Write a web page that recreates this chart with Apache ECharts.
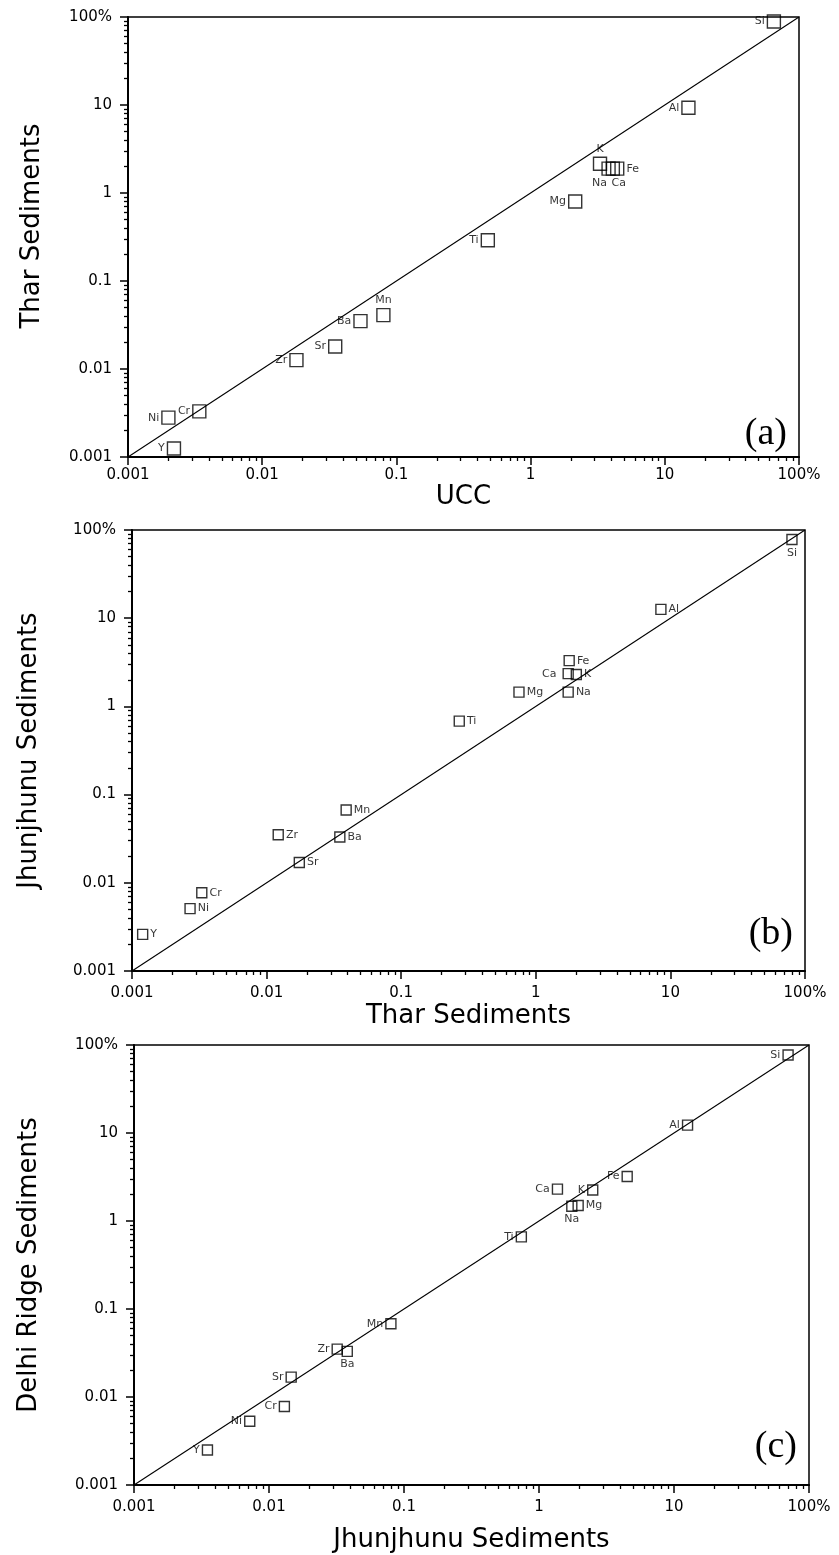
<!DOCTYPE html>
<html>
<head>
<meta charset="utf-8">
<title>Element abundance comparison</title>
<script src="https://cdn.jsdelivr.net/npm/echarts@6/dist/echarts.min.js"></script>
<style>
  html, body { margin: 0; padding: 0; background: #fff; }
  #chart { width: 839px; height: 1555px; }
</style>
</head>
<body>
<div id="chart"></div>
<script>
// Decade ticks shared by every axis (values in %, log scale)
const tickValues = [0.001, 0.01, 0.1, 1, 10, 100];
const tickLabels = ['0.001', '0.01', '0.1', '1', '10', '100%'];

// (a) UCC vs Thar sediments
const elementsA = ['Si', 'Al', 'K', 'Na', 'Ca', 'Fe', 'Mg', 'Ti', 'Mn', 'Ba', 'Sr', 'Zr', 'Cr', 'Ni', 'Y'];
const uccA  = [65, 15, 3.29, 3.81, 4.1, 4.42, 2.15, 0.48, 0.08, 0.054, 0.035, 0.018, 0.0034, 0.002, 0.0022];
const tharA = [89, 9.3, 2.15, 1.89, 1.89, 1.89, 0.8, 0.29, 0.041, 0.035, 0.018, 0.0126, 0.0033, 0.0028, 0.00125];

// (b) Thar vs Jhunjhunu sediments
const elementsB = ['Si', 'Al', 'Fe', 'Ca', 'K', 'Mg', 'Na', 'Ti', 'Mn', 'Zr', 'Ba', 'Sr', 'Cr', 'Ni', 'Y'];
const tharB  = [80, 8.5, 1.77, 1.74, 2.0, 0.75, 1.74, 0.27, 0.039, 0.0122, 0.035, 0.0175, 0.0033, 0.0027, 0.0012];
const jhunB  = [78, 12.6, 3.3, 2.35, 2.3, 1.45, 1.45, 0.68, 0.067, 0.035, 0.033, 0.017, 0.0077, 0.0051, 0.0026];

// (c) Jhunjhunu vs Delhi Ridge sediments
const elementsC = ['Si', 'Al', 'Fe', 'Ca', 'K', 'Mg', 'Na', 'Ti', 'Mn', 'Zr', 'Ba', 'Sr', 'Cr', 'Ni', 'Y'];
const jhunC  = [70, 12.6, 4.5, 1.37, 2.5, 1.95, 1.75, 0.74, 0.08, 0.032, 0.038, 0.0146, 0.013, 0.0072, 0.0035];
const delhiC = [77, 12.3, 3.2, 2.3, 2.25, 1.5, 1.47, 0.66, 0.068, 0.035, 0.033, 0.0168, 0.0078, 0.0053, 0.0025];

// 1:1 reference line end points
const oneToOne = [0.001, 100];

// Label placement for each element, per panel
const labelSideA = { Si: 'left', Al: 'left', K: 'top', Na: 'bottom', Ca: 'bottom', Fe: 'right', Mg: 'left', Ti: 'left',
  Mn: 'top', Ba: 'left', Sr: 'left', Zr: 'left', Cr: 'left', Ni: 'left', Y: 'left' };
const labelSideB = { Si: 'bottom', Al: 'right', Fe: 'right', Ca: 'left', K: 'right', Mg: 'right', Na: 'right', Ti: 'right',
  Mn: 'right', Zr: 'right', Ba: 'right', Sr: 'right', Cr: 'right', Ni: 'right', Y: 'right' };
const labelSideC = { Si: 'left', Al: 'left', Fe: 'left', Ca: 'left', K: 'left', Mg: 'right', Na: 'bottom', Ti: 'left',
  Mn: 'left', Zr: 'left', Ba: 'bottom', Sr: 'left', Cr: 'left', Ni: 'left', Y: 'left' };
// nudges for crowded labels
const labelShiftA = { Na: [-9, 0], Ca: [6, 0] };
const labelShiftB = { Ca: [-4, 0] };
const labelShiftC = {};

// Minor log ticks 2..9 inside each decade
const minorTicks = [];
for (let e = -3; e < 2; e++) {
  for (let m = 2; m <= 9; m++) minorTicks.push(+(m * Math.pow(10, e)).toPrecision(3));
}

const FONT = '"DejaVu Sans", Verdana, sans-serif';

function fmtTick(v) {
  const i = Math.round(Math.log10(v)) + 3;
  return tickLabels[i] !== undefined ? tickLabels[i] : '';
}

const panels = [
  { grid: { left: 128, top: 17, width: 671, height: 440 }, xName: 'UCC', yName: 'Thar Sediments',
    xGap: 10, yGap: 83, yPad: [0, 0, 0, 22], xMargin: 11, names: elementsA, xs: uccA, ys: tharA, sides: labelSideA, shifts: labelShiftA,
    size: 13, tag: '(a)', tagY: 434 },
  { grid: { left: 132, top: 530, width: 673, height: 441 }, xName: 'Thar Sediments', yName: 'Jhunjhunu Sediments',
    xGap: 32, yGap: 90, yPad: 0, xMargin: 15, names: elementsB, xs: tharB, ys: jhunB, sides: labelSideB, shifts: labelShiftB,
    size: 10, tag: '(b)', tagY: 934 },
  { grid: { left: 134, top: 1045, width: 675, height: 440 }, xName: 'Jhunjhunu Sediments', yName: 'Delhi Ridge Sediments',
    xGap: 42, yGap: 92, yPad: 0, xMargin: 15, names: elementsC, xs: jhunC, ys: delhiC, sides: labelSideC, shifts: labelShiftC,
    size: 10, tag: '(c)', tagY: 1447 }
];

const option = { animation: false, backgroundColor: '#fff', grid: [], xAxis: [], yAxis: [], series: [], graphic: [] };

panels.forEach((p, k) => {
  option.grid.push(Object.assign({ show: true, borderColor: '#000', borderWidth: 1.5, backgroundColor: 'transparent' }, p.grid));

  const base = { type: 'log', logBase: 10, min: 0.001, max: 100, gridIndex: k, splitLine: { show: false } };
  // main axes with decade ticks and labels
  option.xAxis.push(Object.assign({}, base, {
    position: 'bottom',
    name: p.xName, nameLocation: 'middle', nameGap: p.xGap,
    nameTextStyle: { fontFamily: FONT, fontSize: 26, color: '#000', verticalAlign: 'top' },
    axisLine: { show: true, onZero: false, lineStyle: { color: '#000', width: 2 } },
    axisTick: { show: true, inside: false, length: 8, lineStyle: { color: '#000', width: 1.5 }, customValues: tickValues },
    axisLabel: { show: true, margin: p.xMargin, fontFamily: FONT, fontSize: 15, color: '#000', formatter: fmtTick, customValues: tickValues }
  }));
  option.yAxis.push(Object.assign({}, base, {
    position: 'left',
    name: p.yName, nameLocation: 'middle', nameGap: p.yGap, nameRotate: 90,
    nameTextStyle: { fontFamily: FONT, fontSize: 26, color: '#000', padding: p.yPad },
    axisLine: { show: true, onZero: false, lineStyle: { color: '#000', width: 2 } },
    axisTick: { show: true, inside: false, length: 8, lineStyle: { color: '#000', width: 1.5 }, customValues: tickValues },
    axisLabel: { show: true, margin: 16, fontFamily: FONT, fontSize: 15, color: '#000', formatter: fmtTick, customValues: tickValues }
  }));
  // companion axes carrying the minor ticks
  option.xAxis.push(Object.assign({}, base, {
    position: 'bottom',
    axisLine: { show: false, onZero: false },
    axisTick: { show: true, inside: false, length: 4, lineStyle: { color: '#000', width: 1.3 }, customValues: minorTicks },
    axisLabel: { show: false }
  }));
  option.yAxis.push(Object.assign({}, base, {
    position: 'left',
    axisLine: { show: false, onZero: false },
    axisTick: { show: true, inside: false, length: 4, lineStyle: { color: '#000', width: 1.3 }, customValues: minorTicks },
    axisLabel: { show: false }
  }));

  const xi = k * 2, yi = k * 2;

  option.series.push({
    type: 'line', xAxisIndex: xi, yAxisIndex: yi, silent: true, symbol: 'none',
    lineStyle: { color: '#000', width: 1.1 },
    data: [[oneToOne[0], oneToOne[0]], [oneToOne[1], oneToOne[1]]],
    z: 2
  });

  option.series.push({
    type: 'scatter', xAxisIndex: xi, yAxisIndex: yi, symbol: 'rect', symbolSize: p.size,
    itemStyle: { color: 'rgba(0,0,0,0)', borderColor: '#000', borderWidth: 1.4 },
    label: { show: true, formatter: '{b}', fontFamily: FONT, fontSize: 11, color: '#000', distance: 2 },
    data: p.names.map((n, i) => ({
      name: n, value: [p.xs[i], p.ys[i]],
      label: { position: p.sides[n], offset: p.shifts[n] || [0, 0] }
    })),
    z: 3
  });

  option.graphic.push({
    type: 'text', x: p.grid.left + p.grid.width - 12, y: p.tagY,
    style: { text: p.tag, font: '38px "Liberation Serif", "Times New Roman", serif', fill: '#000',
      align: 'right', verticalAlign: 'middle' }
  });
});

const chart = echarts.init(document.getElementById('chart'), null, { renderer: 'canvas' });
chart.setOption(option);
</script>
</body>
</html>
